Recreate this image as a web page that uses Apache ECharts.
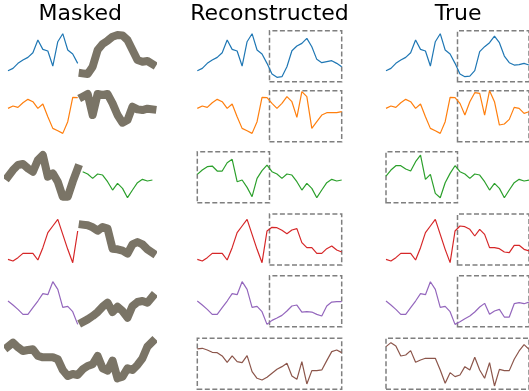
<!DOCTYPE html>
<html>
<head>
<meta charset="utf-8">
<script src="https://cdn.jsdelivr.net/npm/echarts@6/dist/echarts.min.js"></script>
<style>
  html, body { margin: 0; padding: 0; background: #fff; }
  #chart { width: 529px; height: 391px; }
</style>
</head>
<body>
<div id="chart"></div>
<script>
// column titles
const columnTitles = ['Masked', 'Reconstructed', 'True'];

// true series, 30 steps each
const trueBlue   = [33, 40, 55, 65, 73, 87, 125, 97, 92, 47, 120, 144, 95, 83, 55, 23, 15, 17, 33, 90, 105, 117, 137, 117, 77, 57, 50, 51, 55, 50];
const trueOrange = [100, 107, 103, 117, 127, 120, 100, 113, 75, 40, 33, 25, 60, 133, 132, 115, 80, 120, 147, 145, 80, 153, 120, 50, 53, 67, 103, 100, 85, 90];
const trueGreen  = [80, 98, 111, 111, 101, 95, 123, 143, 70, 85, 28, 15, 60, 88, 111, 93, 86, 73, 86, 83, 63, 38, 58, 43, 15, 38, 60, 70, 65, 68];
const trueRed    = [17, 12, 22, 35, 35, 35, 15, 52, 97, 117, 137, 92, 47, 7, 102, 117, 115, 107, 87, 107, 92, 52, 52, 49, 39, 37, 59, 59, 47, 42];
const truePurple = [77, 65, 52, 37, 37, 57, 77, 99, 96, 135, 112, 58, 61, 45, 7, 15, 24, 32, 44, 59, 70, 37, 47, 52, 29, 29, 69, 72, 69, 74];
const trueBrown  = [128, 140, 130, 100, 103, 116, 81, 88, 93, 93, 93, 58, 18, 50, 38, 43, 68, 58, 96, 58, 33, 80, 10, 60, 56, 56, 90, 115, 134, 120];

// reconstructed values over the masked steps only
const reconBlue   = [23, 13, 15, 45, 93, 107, 115, 130, 105, 67, 57, 60, 63, 55, 45];
const reconOrange = [115, 100, 115, 135, 120, 73, 150, 135, 40, 60, 80, 87, 87, 87, 90];
const reconGreen  = [85, 98, 108, 110, 95, 95, 120, 130, 63, 68, 46, 18, 73, 96, 113];
const reconRed    = [113, 112, 104, 94, 105, 109, 67, 52, 52, 35, 35, 49, 57, 45, 39];
const reconPurple = [19, 26, 34, 47, 62, 65, 44, 45, 44, 37, 32, 62, 74, 75, 75];
const reconBrown  = [121, 123, 118, 111, 110, 100, 81, 100, 83, 80, 101, 53, 33, 28, 36, 48, 60, 68, 78, 40, 30, 83, 16, 56, 56, 58, 86, 113, 118, 110];

// what the masked input shows over the masked steps
const maskBlue   = [25, 23, 45, 95, 113, 123, 135, 140, 139, 125, 95, 65, 60, 62, 53];
const maskOrange = [135, 143, 80, 143, 140, 143, 115, 80, 57, 65, 105, 97, 95, 99, 97];
const maskGreen  = [78, 98, 113, 116, 103, 93, 128, 143, 78, 88, 63, 18, 18, 63, 103];
const maskRed    = [121, 119, 113, 103, 114, 109, 49, 47, 43, 34, 62, 69, 62, 47, 37];
const maskPurple = [14, 22, 32, 44, 60, 72, 44, 60, 47, 27, 62, 74, 77, 72, 90];
const maskBrown  = [128, 140, 126, 115, 118, 120, 100, 96, 96, 96, 90, 58, 40, 46, 43, 60, 70, 75, 100, 63, 56, 86, 33, 38, 63, 58, 73, 93, 128, 143];

// first and last masked step per row
const maskRanges = [[15, 29], [15, 29], [0, 14], [15, 29], [15, 29], [0, 29]];

const rows = [
  { truth: trueBlue, recon: reconBlue, mask: maskBlue, color: '#1f77b4' },
  { truth: trueOrange, recon: reconOrange, mask: maskOrange, color: '#ff7f0e' },
  { truth: trueGreen, recon: reconGreen, mask: maskGreen, color: '#2ca02c' },
  { truth: trueRed, recon: reconRed, mask: maskRed, color: '#d62728' },
  { truth: truePurple, recon: reconPurple, mask: maskPurple, color: '#9467bd' },
  { truth: trueBrown, recon: reconBrown, mask: maskBrown, color: '#8c564b' },
];

// layout (px)
const colLeft = [8, 197.3, 386];
const rowTop = [30.7, 90.7, 151.7, 214, 275.7, 338.3];
const panelW = 144.4;
const panelH = 51;
const yMax = 153;
const lastStep = 29;

const grid = [];
const xAxis = [];
const yAxis = [];
const series = [];

function pairs(values, start) {
  return values.map((v, k) => [start + k, v]);
}

function boxArea(m0, m1) {
  // dashed box around the masked part
  const x0 = m0 === 0 ? 0 : m0 - 0.5;
  const x1 = m1 === lastStep ? lastStep : m1 + 0.5;
  return {
    silent: true,
    itemStyle: {
      color: 'rgba(0,0,0,0)',
      borderColor: '#7f7f7f',
      borderWidth: 1.5,
      borderType: [5, 2.5],
    },
    label: { show: false },
    data: [[{ xAxis: x0, yAxis: 0 }, { xAxis: x1, yAxis: yMax }]],
  };
}

rows.forEach((row, r) => {
  const [m0, m1] = maskRanges[r];
  const recon = row.truth.map((v, i) => (i >= m0 && i <= m1 ? row.recon[i - m0] : v));

  for (let c = 0; c < 3; c++) {
    const g = grid.length;
    grid.push({ left: colLeft[c], top: rowTop[r], width: panelW, height: panelH });
    xAxis.push({ type: 'value', gridIndex: g, min: 0, max: lastStep, show: false });
    yAxis.push({ type: 'value', gridIndex: g, min: 0, max: yMax, show: false });

    if (c === 0) {
      // visible part thin, masked part as thick grey band
      const visible = row.truth
        .map((v, i) => [i, v])
        .filter(([i]) => i < m0 || i > m1);
      if (visible.length) {
        series.push({
          type: 'line', xAxisIndex: g, yAxisIndex: g, data: visible,
          showSymbol: false, silent: true, z: 2,
          lineStyle: { color: row.color, width: 1.2 },
        });
      }
      series.push({
        type: 'line', xAxisIndex: g, yAxisIndex: g, data: pairs(row.mask, m0),
        showSymbol: false, silent: true, z: 3,
        lineStyle: { color: '#7a7466', width: 8, cap: 'square', join: 'round' },
      });
    } else {
      const values = c === 1 ? recon : row.truth;
      series.push({
        type: 'line', xAxisIndex: g, yAxisIndex: g, data: pairs(values, 0),
        showSymbol: false, silent: true,
        lineStyle: { color: row.color, width: 1.2 },
        markArea: boxArea(m0, m1),
      });
    }
  }
});

const titles = columnTitles.map((t, c) => ({
  type: 'text',
  x: colLeft[c] + panelW / 2,
  y: 14,
  style: {
    text: t,
    font: '22px "DejaVu Sans"',
    fill: '#000',
    textAlign: 'center',
    textVerticalAlign: 'middle',
    align: 'center',
    verticalAlign: 'middle',
  },
}));

const chart = echarts.init(document.getElementById('chart'));
chart.setOption({
  animation: false,
  backgroundColor: '#fff',
  grid,
  xAxis,
  yAxis,
  series,
  graphic: titles,
});
</script>
</body>
</html>
